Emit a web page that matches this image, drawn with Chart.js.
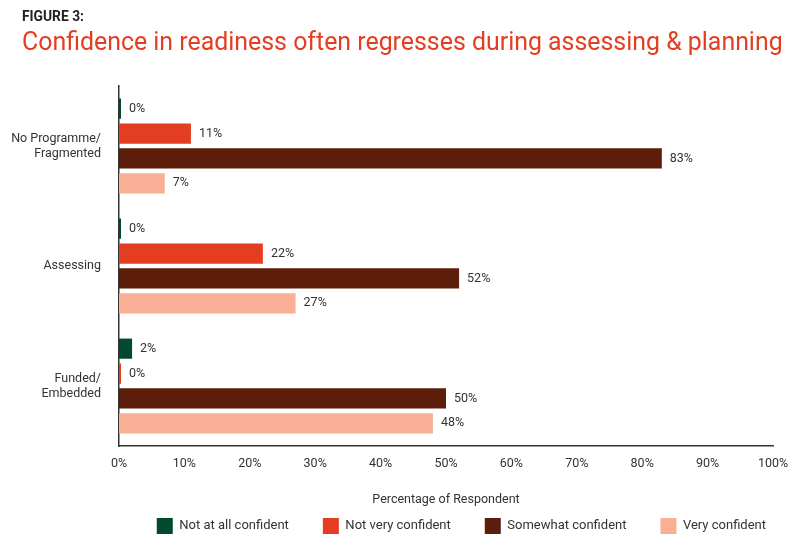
<!DOCTYPE html>
<html>
<head>
<meta charset="utf-8">
<script src="https://cdn.jsdelivr.net/npm/chart.js@4.4.1/dist/chart.umd.min.js"></script>
<style>
  html, body { margin: 0; padding: 0; background: #fff; }
  #wrap { position: relative; width: 800px; height: 541px; }
  .fig-label { position: absolute; left: 22px; top: 9px; font: bold 13.8px/15px Roboto, sans-serif; color: #222; }
  .fig-title { position: absolute; left: 22px; top: 27px; font: 24.9px/30px Roboto, sans-serif; color: #E33E22; white-space: nowrap; }
</style>
</head>
<body>
<div id="wrap">
  <canvas id="figure3"></canvas>
  <div class="fig-label">FIGURE 3:</div>
  <div class="fig-title">Confidence in readiness often regresses during assessing &amp; planning</div>
</div>
<script>
const categories = [["No Programme/", "Fragmented"], "Assessing", ["Funded/", "Embedded"]];
const notAtAll = [0, 0, 2];
const notVery = [11, 22, 0];
const somewhat = [83, 52, 50];
const veryConfident = [7, 27, 48];
const xTicks = [0, 10, 20, 30, 40, 50, 60, 70, 80, 90, 100];

const textColor = "#333333";
const fontFamily = "Roboto, 'Liberation Sans', sans-serif";

// value labels just past the end of each bar
const barLabels = {
  id: "barLabels",
  afterDatasetsDraw(chart) {
    const ctx = chart.ctx;
    ctx.save();
    ctx.font = `12.5px ${fontFamily}`;
    ctx.fillStyle = textColor;
    ctx.textAlign = "left";
    ctx.textBaseline = "middle";
    chart.data.datasets.forEach((ds, i) => {
      const meta = chart.getDatasetMeta(i);
      meta.data.forEach((bar, j) => {
        ctx.fillText(ds.data[j] + "%", bar.x + 8, bar.y);
      });
    });
    ctx.restore();
  }
};

function makeSet(label, data, color) {
  return {
    label: label,
    data: data,
    backgroundColor: color,
    borderWidth: 0,
    minBarLength: 2,
    categoryPercentage: 0.83,
    barPercentage: 0.81
  };
}

new Chart(document.getElementById("figure3"), {
  type: "bar",
  data: {
    labels: categories,
    datasets: [
      makeSet("Not at all confident", notAtAll, "#024A2E"),
      makeSet("Not very confident", notVery, "#E33E22"),
      makeSet("Somewhat confident", somewhat, "#5C1E0B"),
      makeSet("Very confident", veryConfident, "#F8AF96")
    ]
  },
  options: {
    indexAxis: "y",
    responsive: true,
    maintainAspectRatio: false,
    animation: false,
    layout: { padding: { left: 6, right: 0, top: 86, bottom: -3 } },
    scales: {
      x: {
        min: 0,
        max: 100,
        afterBuildTicks: (axis) => { axis.ticks = xTicks.map(v => ({ value: v })); },
        ticks: {
          callback: (v) => v + "%",
          color: textColor,
          font: { family: fontFamily, size: 12.5 },
          padding: 10,
          maxRotation: 0
        },
        grid: { display: false, drawTicks: false },
        border: { display: true, color: "#333", width: 1.5 },
        title: {
          display: true,
          text: "Percentage of Respondent",
          color: textColor,
          font: { family: fontFamily, size: 12.5 },
          padding: { top: 11, bottom: -23 }
        }
      },
      y: {
        afterFit: (axis) => { axis.width = 113; },
        ticks: {
          color: textColor,
          font: { family: fontFamily, size: 12.5, lineHeight: 1.2 },
          padding: 18
        },
        grid: { display: false, drawTicks: false },
        border: { display: true, color: "#333", width: 1.5 }
      },
      // empty right-hand spacer so the legend can run further right than the plot
      spacer: {
        type: "category",
        position: "right",
        afterFit: (axis) => { axis.width = 27; },
        ticks: { display: false },
        grid: { display: false, drawTicks: false },
        border: { display: false }
      }
    },
    plugins: {
      legend: {
        position: "bottom",
        align: "end",
        labels: {
          boxWidth: 16,
          boxHeight: 16,
          padding: 34,
          color: textColor,
          font: { family: fontFamily, size: 13 }
        }
      },
      tooltip: { enabled: false }
    }
  },
  plugins: [barLabels]
});
</script>
</body>
</html>
